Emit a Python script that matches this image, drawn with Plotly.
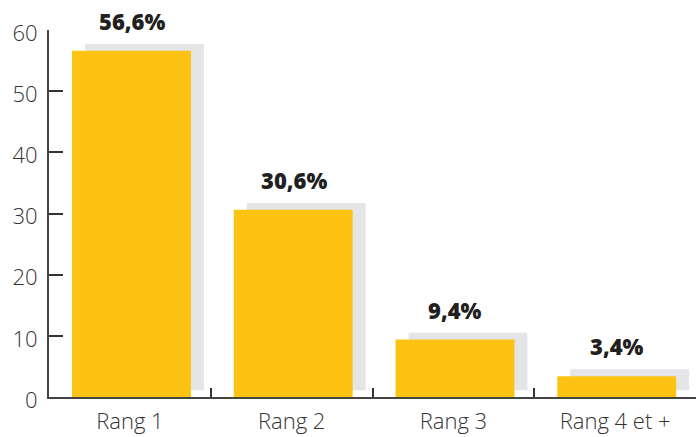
import plotly.graph_objects as go

categories = ["Rang 1", "Rang 2", "Rang 3", "Rang 4 et +"]
values = [56.6, 30.6, 9.4, 3.4]
labels = ["56,6%", "30,6%", "9,4%", "3,4%"]
y_ticks = [0, 10, 20, 30, 40, 50, 60]

BAR_W = 0.735
SHADOW_DX = 0.08   # category units (~13 px)
SHADOW_DY = 1.12   # value units (~7 px)

fig = go.Figure()
# shadow bars
fig.add_trace(go.Bar(
    x=categories, y=values, base=[SHADOW_DY] * len(values),
    width=BAR_W, offset=-BAR_W / 2 + SHADOW_DX + 0.01,
    marker=dict(color="#E4E5E7", line=dict(width=0)),
    hoverinfo="skip", showlegend=False,
))
# main bars
fig.add_trace(go.Bar(
    x=categories, y=values,
    width=BAR_W, offset=-BAR_W / 2 + 0.01,
    marker=dict(color="#FCC313", line=dict(width=0)),
    showlegend=False,
))

for c, v, t in zip(categories, values, labels):
    fig.add_annotation(
        x=c, y=v + SHADOW_DY, text=t, showarrow=False,
        xanchor="center", yanchor="bottom", yshift=6, xshift=2,
        font=dict(family="Open Sans", size=22, color="#231F20", weight=800),
    )

fig.update_layout(
    width=698, height=437,
    margin=dict(l=49, r=2, t=30, b=31),
    paper_bgcolor="white", plot_bgcolor="white",
    barmode="overlay",
    xaxis=dict(
        type="category", range=[-0.5, 3.5],
        showgrid=False, zeroline=False,
        showline=True, linecolor="#444444", linewidth=2,
        ticks="inside", tickson="boundaries", ticklen=9,
        tickcolor="#333333", tickwidth=1.5,
        tickfont=dict(family="Open Sans", size=22, color="#333333", weight=300),
        ticklabelstandoff=4,
    ),
    yaxis=dict(
        range=[0, 60], tickvals=y_ticks,
        showgrid=False, zeroline=False,
        showline=True, linecolor="#444444", linewidth=2,
        ticks="inside", ticklen=14, tickcolor="#333333", tickwidth=1.5,
        tickfont=dict(family="Open Sans", size=22, color="#333333", weight=300),
        ticklabelstandoff=5, ticklabelshift=3,
    ),
)

fig.write_html("out.html", config={"displayModeBar": False},
               post_script="document.body.style.margin='0';")
